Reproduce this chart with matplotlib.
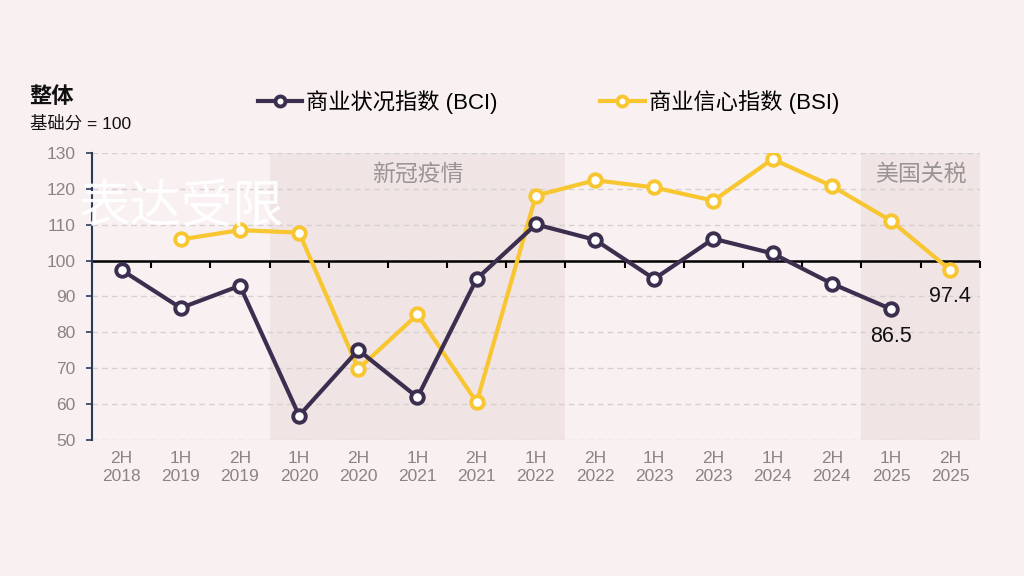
import matplotlib
matplotlib.use("Agg")
import matplotlib.pyplot as plt
import numpy as np

plt.rcParams['font.family'] = ['Liberation Sans', 'Noto Sans CJK SC', 'DejaVu Sans']

# 数据
periods = ['2H\n2018', '1H\n2019', '2H\n2019', '1H\n2020', '2H\n2020', '1H\n2021',
           '2H\n2021', '1H\n2022', '2H\n2022', '1H\n2023', '2H\n2023', '1H\n2024',
           '2H\n2024', '1H\n2025', '2H\n2025']
bci = [97.4, 86.8, 93.0, 56.8, 75.1, 61.9, 94.9, 110.1, 105.8, 94.9, 106.1, 102.0,
       93.6, 86.5, np.nan]
bsi = [np.nan, 105.9, 108.5, 107.8, 69.8, 85.0, 60.5, 118.1, 122.4, 120.4, 116.7,
       128.3, 120.8, 111.1, 97.4]
shade_covid = (2.5, 7.5)
shade_tariff = (12.5, 14.5)

bg = '#f8f0f1'
shade_col = '#f1e4e4'
dark = '#3b2e4f'
yellow = '#f7c631'

fig = plt.figure(figsize=(10.24, 5.76), dpi=100, facecolor=bg)
ax = fig.add_axes([0.0898, 0.2361, 0.867, 0.4983], facecolor=bg)

x = np.arange(len(periods))
ax.set_xlim(-0.5, len(periods) - 0.5)
ax.set_ylim(50, 130)

ax.axvspan(*shade_covid, color=shade_col, lw=0, zorder=0)
ax.axvspan(*shade_tariff, color=shade_col, lw=0, zorder=0)
ax.text(np.mean(shade_covid), 124, '新冠疫情', ha='center', va='center',
        fontsize=16.5, color='#9a9494')
ax.text(np.mean(shade_tariff), 124, '美国关税', ha='center', va='center',
        fontsize=16.5, color='#9a9494')

ax.set_yticks(np.arange(50, 131, 10))
ax.grid(axis='y', color='#d6d0d0', ls=(0, (4, 3)), lw=1)
ax.set_axisbelow(True)

l1, = ax.plot(x, bci, color=dark, lw=3, marker='o', ms=9, mfc='white',
              mec=dark, mew=2.8, zorder=4)
l2, = ax.plot(x, bsi, color=yellow, lw=3, marker='o', ms=9, mfc='white',
              mec=yellow, mew=2.8, zorder=3)

# 100 基准线及其刻度
ax.axhline(100, color='black', lw=1.8, zorder=2)
sec = ax.secondary_xaxis((100 - 50) / (130 - 50))
sec.set_xticks(np.arange(-0.5, len(periods), 1))
sec.set_xticklabels([])
sec.tick_params(axis='x', direction='in', length=5, width=1.5, color='black')
for s in sec.spines.values():
    s.set_visible(False)

ax.text(x[13], bci[13] - 7.7, f'{bci[13]}', ha='center', va='center', fontsize=15.5,
        color='#111111')
ax.text(x[14], bsi[14] - 7.5, f'{bsi[14]}', ha='center', va='center', fontsize=15.5,
        color='#111111')

ax.set_xticks(x)
ax.set_xticklabels(periods, fontsize=12.5, color='#8a8585', linespacing=1.25)
ax.tick_params(axis='x', length=0, pad=8)
ax.tick_params(axis='y', labelsize=12.5, labelcolor='#8a8585', length=4,
               color='#2b3a5a', width=1.2, pad=8)
for side in ['top', 'right', 'bottom']:
    ax.spines[side].set_visible(False)
ax.spines['left'].set_color('#2b3a5a')
ax.spines['left'].set_linewidth(1.5)

fig.text(0.029, 0.83, '整体', fontsize=16, fontweight='bold', color='#111111',
         va='center')
fig.text(0.029, 0.786, '基础分 = 100', fontsize=12.5, color='#111111', va='center')

fig.legend([l1, l2], ['商业状况指数 (BCI)', '商业信心指数 (BSI)'], ncol=2,
           loc='center left', bbox_to_anchor=(0.232, 0.823), frameon=False,
           fontsize=16, handlelength=2, columnspacing=4.6, handletextpad=0.2,
           markerscale=0.8)

fig.text(0.076, 0.638, '表达受限', fontsize=37, color='white', va='center',
         fontweight='light', alpha=0.95)

fig.savefig('out.png', dpi=100, facecolor=bg)
